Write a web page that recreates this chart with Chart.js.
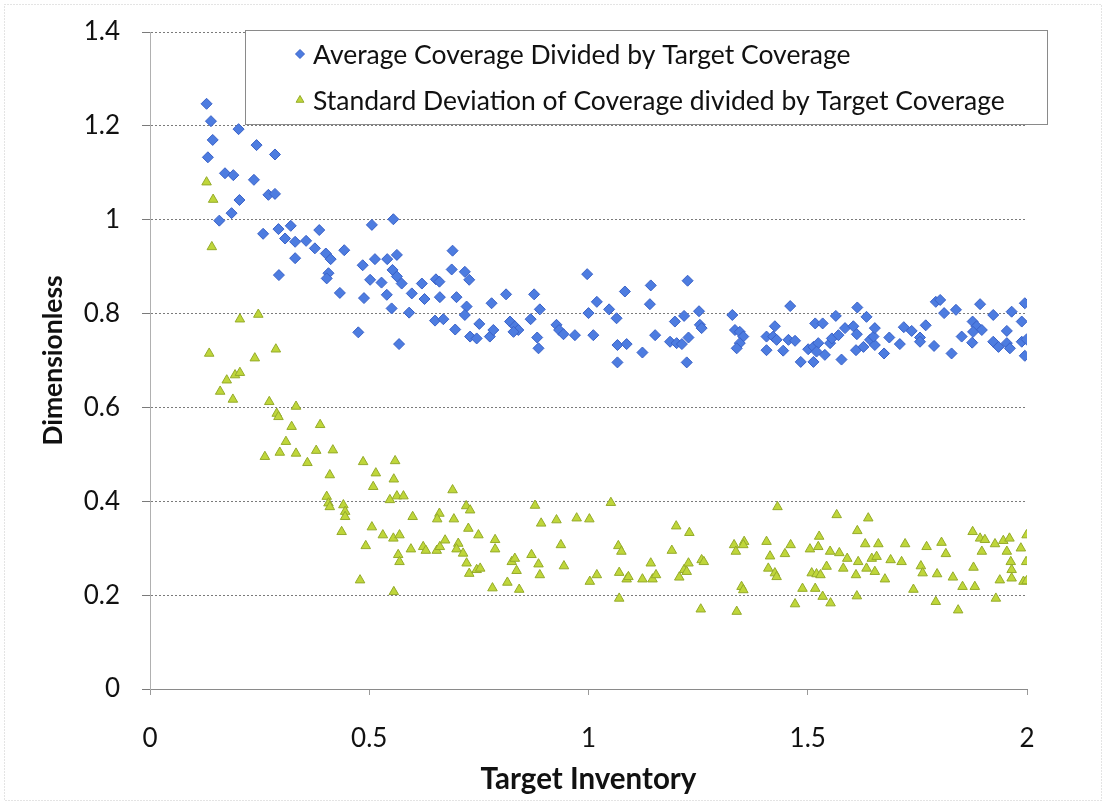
<!DOCTYPE html>
<html>
<head>
<meta charset="utf-8">
<script src="https://cdn.jsdelivr.net/npm/chart.js@4/dist/chart.umd.min.js"></script>
<style>
  html, body { margin: 0; padding: 0; background: #fff; }
  #wrap { width: 1106px; height: 805px; }
</style>
</head>
<body>
<div id="wrap"><canvas id="chart" width="1106" height="805"></canvas></div>
<script>
// Average coverage / target coverage
const avgX = [0.129,0.139,0.143,0.132,0.171,0.190,0.202,0.243,0.285,0.237,0.270,0.285,0.204,0.186,0.158,0.258,0.293,0.321,0.308,0.331,
  0.356,0.376,0.386,0.401,0.412,0.443,0.331,0.407,0.403,0.294,0.433,0.485,0.513,0.506,0.555,0.541,0.563,0.553,0.563,0.574,
  0.502,0.528,0.540,0.597,0.620,0.652,0.660,0.690,0.688,0.718,0.728,0.488,0.551,0.591,0.626,0.661,0.650,0.669,0.699,0.696,
  0.722,0.718,0.751,0.730,0.745,0.775,0.783,0.779,0.475,0.568,0.812,0.821,0.832,0.840,0.829,0.876,0.889,0.868,0.883,0.886,
  0.927,0.933,0.943,0.969,0.997,1.000,1.019,1.011,1.047,1.064,1.066,1.087,1.066,1.083,1.123,1.142,1.140,1.152,1.197,1.186,
  1.201,1.213,1.228,1.218,1.226,1.252,1.254,1.258,1.224,1.328,1.334,1.345,1.353,1.345,1.338,1.406,1.425,1.421,1.429,1.406,
  1.444,1.460,1.456,1.471,1.484,1.501,1.513,1.524,1.513,1.520,1.539,1.517,1.534,1.551,1.555,1.570,1.564,1.577,1.585,1.604,
  1.612,1.613,1.634,1.610,1.627,1.642,1.653,1.650,1.653,1.674,1.686,1.710,1.719,1.737,1.756,1.756,1.769,1.788,1.792,1.802,
  1.811,1.838,1.828,1.851,1.875,1.876,1.885,1.897,1.877,1.893,1.923,1.923,1.935,1.954,1.961,1.954,1.965,1.988,1.999,1.988,
  1.995,1.995];
const avgY = [1.247,1.210,1.170,1.133,1.099,1.095,1.193,1.159,1.139,1.085,1.053,1.055,1.042,1.014,0.998,0.970,0.980,0.987,0.960,0.953,
  0.955,0.939,0.978,0.928,0.916,0.935,0.918,0.886,0.875,0.882,0.844,0.903,0.916,0.989,1.001,0.916,0.925,0.893,0.879,0.864,
  0.872,0.866,0.840,0.843,0.864,0.873,0.868,0.934,0.894,0.889,0.872,0.833,0.811,0.802,0.831,0.835,0.785,0.788,0.835,0.766,
  0.815,0.797,0.778,0.751,0.747,0.751,0.765,0.822,0.760,0.735,0.841,0.783,0.773,0.765,0.761,0.841,0.809,0.788,0.749,0.726,
  0.776,0.765,0.756,0.754,0.884,0.801,0.825,0.754,0.809,0.790,0.733,0.735,0.696,0.847,0.717,0.860,0.820,0.754,0.783,0.740,
  0.737,0.735,0.749,0.795,0.870,0.805,0.776,0.769,0.696,0.797,0.765,0.761,0.751,0.737,0.726,0.751,0.773,0.751,0.744,0.722,
  0.721,0.816,0.744,0.742,0.697,0.724,0.729,0.737,0.697,0.719,0.712,0.779,0.779,0.737,0.747,0.754,0.795,0.702,0.769,0.773,
  0.756,0.813,0.793,0.722,0.729,0.744,0.733,0.751,0.769,0.715,0.749,0.735,0.771,0.763,0.749,0.740,0.775,0.731,0.825,0.829,
  0.801,0.808,0.715,0.751,0.738,0.783,0.773,0.765,0.761,0.820,0.797,0.740,0.729,0.737,0.726,0.763,0.804,0.740,0.745,0.783,
  0.822,0.710];

// Standard deviation of coverage / target coverage
const sdX = [0.129,0.144,0.141,0.135,0.205,0.247,0.287,0.239,0.160,0.175,0.194,0.205,0.189,0.272,0.289,0.293,0.333,0.323,0.388,0.310,
  0.262,0.296,0.333,0.359,0.379,0.417,0.410,0.403,0.407,0.410,0.441,0.445,0.445,0.437,0.486,0.515,0.509,0.559,0.556,0.547,
  0.563,0.578,0.599,0.506,0.531,0.555,0.569,0.566,0.569,0.492,0.479,0.556,0.595,0.623,0.629,0.654,0.661,0.673,0.660,0.655,
  0.693,0.690,0.721,0.730,0.726,0.749,0.703,0.699,0.714,0.722,0.728,0.745,0.753,0.781,0.787,0.787,0.815,0.825,0.832,0.836,
  0.842,0.878,0.892,0.870,0.886,0.889,0.927,0.937,0.944,0.973,1.002,1.051,1.068,1.075,1.003,1.019,1.070,1.087,1.091,1.070,
  1.123,1.142,1.146,1.154,1.190,1.200,1.230,1.207,1.218,1.228,1.224,1.258,1.263,1.256,1.332,1.336,1.355,1.353,1.349,1.353,
  1.338,1.406,1.414,1.410,1.425,1.429,1.431,1.448,1.461,1.471,1.488,1.505,1.526,1.524,1.509,1.520,1.529,1.517,1.534,1.552,
  1.543,1.551,1.572,1.590,1.566,1.581,1.610,1.615,1.613,1.638,1.631,1.661,1.612,1.634,1.646,1.657,1.653,1.676,1.689,1.714,
  1.722,1.741,1.758,1.762,1.771,1.795,1.792,1.805,1.815,1.831,1.843,1.853,1.881,1.878,1.876,1.893,1.904,1.897,1.927,1.929,
  1.938,1.946,1.960,1.954,1.963,1.965,1.965,1.986,1.998,1.999,1.992,1.999];
const sdY = [1.080,1.043,0.942,0.715,0.788,0.798,0.724,0.705,0.634,0.658,0.669,0.674,0.617,0.612,0.587,0.580,0.602,0.559,0.563,0.527,
  0.495,0.504,0.502,0.482,0.508,0.509,0.456,0.410,0.396,0.388,0.392,0.378,0.367,0.335,0.484,0.460,0.431,0.486,0.447,0.403,
  0.411,0.411,0.367,0.345,0.328,0.321,0.328,0.286,0.271,0.305,0.232,0.207,0.298,0.303,0.295,0.295,0.303,0.317,0.374,0.362,
  0.362,0.424,0.390,0.381,0.342,0.328,0.310,0.298,0.289,0.268,0.246,0.254,0.257,0.215,0.318,0.298,0.227,0.271,0.278,0.252,
  0.212,0.391,0.353,0.286,0.266,0.243,0.360,0.307,0.262,0.364,0.362,0.397,0.305,0.293,0.229,0.243,0.248,0.234,0.239,0.193,
  0.234,0.268,0.234,0.243,0.295,0.347,0.333,0.238,0.254,0.268,0.250,0.275,0.271,0.170,0.307,0.293,0.314,0.307,0.218,0.211,
  0.165,0.314,0.283,0.257,0.247,0.239,0.388,0.288,0.307,0.181,0.214,0.298,0.325,0.303,0.247,0.245,0.243,0.214,0.197,0.183,
  0.261,0.293,0.290,0.278,0.371,0.257,0.243,0.271,0.337,0.364,0.309,0.309,0.198,0.257,0.278,0.282,0.250,0.234,0.275,0.271,
  0.309,0.212,0.262,0.247,0.303,0.245,0.186,0.312,0.288,0.238,0.168,0.218,0.218,0.259,0.335,0.321,0.318,0.293,0.309,0.193,
  0.232,0.316,0.321,0.293,0.271,0.254,0.236,0.300,0.271,0.328,0.229,0.230];

const seriesNames = ['Average Coverage Divided by Target Coverage', 'Standard Deviation of Coverage divided by Target Coverage'];
const xTicks = [0, 0.5, 1, 1.5, 2];
const yTicks = [0, 0.2, 0.4, 0.6, 0.8, 1, 1.2, 1.4];

const FONT = 'Lato, "Open Sans", sans-serif';
const BLUE = '#4d7ce0', BLUE_EDGE = '#3a62c8';
const GREEN = '#bfd63a', GREEN_EDGE = '#95ab2a';

const toPoints = (xs, ys) => xs.map((x, i) => ({ x: x, y: ys[i] }));

// white page + faint dotted frame like the scanned chart border
const frame = {
    id: 'frame',
    beforeDraw(chart) {
        const ctx = chart.ctx;
        ctx.save();
        ctx.fillStyle = '#fff';
        ctx.fillRect(0, 0, chart.width, chart.height);
        ctx.strokeStyle = '#c8c8c8';
        ctx.setLineDash([1, 2]);
        ctx.strokeRect(4.5, 4.5, chart.width - 9, chart.height - 9);
        ctx.restore();
    }
};

// boxed legend sitting inside the plot, over the top gridlines
const boxLegend = {
    id: 'boxLegend',
    afterDatasetsDraw(chart) {
        const ctx = chart.ctx;
        const a = chart.chartArea;
        const left = a.left + 95, top = a.top - 2, w = 802, h = 94;
        ctx.save();
        ctx.fillStyle = '#fff';
        ctx.fillRect(left, top, w, h);
        ctx.strokeStyle = '#8a8a8a';
        ctx.lineWidth = 1;
        ctx.strokeRect(left + 0.5, top + 0.5, w, h);
        ctx.font = '26.5px ' + FONT;
        ctx.textBaseline = 'middle';
        chart.data.datasets.forEach((ds, i) => {
            const y = top + 24 + i * 46;
            ctx.fillStyle = ds.backgroundColor;
            ctx.strokeStyle = ds.borderColor;
            ctx.lineWidth = 1;
            Chart.helpers.drawPoint(ctx, {
                pointStyle: ds.pointStyle, radius: 4.5, borderWidth: 1
            }, left + 55, y);
            ctx.fillStyle = '#111';
            ctx.fillText(ds.label, left + 68, y + 1);
        });
        ctx.restore();
    }
};

const ctx = document.getElementById('chart').getContext('2d');
new Chart(ctx, {
    type: 'scatter',
    data: {
        datasets: [{
            label: seriesNames[0],
            data: toPoints(avgX, avgY),
            pointStyle: 'rectRot',
            pointRadius: 5.5,
            backgroundColor: BLUE,
            borderColor: BLUE_EDGE,
            borderWidth: 1
        }, {
            label: seriesNames[1],
            data: toPoints(sdX, sdY),
            pointStyle: 'triangle',
            pointRadius: 5.5,
            backgroundColor: GREEN,
            borderColor: GREEN_EDGE,
            borderWidth: 1
        }]
    },
    options: {
        responsive: false,
        animation: false,
        layout: { padding: { left: 0, right: 79, top: 32, bottom: 0 } },
        plugins: {
            legend: { display: false },
            tooltip: { enabled: false }
        },
        scales: {
            x: {
                type: 'linear',
                min: 0, max: 2,
                afterBuildTicks: (s) => { s.ticks = xTicks.map(v => ({ value: v })); },
                afterFit: (s) => { s.height = 116; s.paddingLeft = 0; s.paddingRight = 0; },
                ticks: {
                    color: '#111',
                    padding: 28,
                    font: { family: FONT, size: 26 },
                    callback: (v) => String(v)
                },
                grid: { drawOnChartArea: false, drawTicks: true, tickLength: 6, color: '#9a9a9a' },
                border: { color: '#8a8a8a' },
                title: {
                    display: true,
                    text: 'Target Inventory',
                    color: '#111',
                    font: { family: FONT, size: 29.5, weight: 'bold' },
                    padding: { top: 0, bottom: 8 }
                }
            },
            y: {
                type: 'linear',
                min: 0, max: 1.4,
                afterBuildTicks: (s) => { s.ticks = yTicks.map(v => ({ value: v })); },
                afterFit: (s) => { s.width = 150; s.paddingTop = 0; s.paddingBottom = 0; },
                ticks: {
                    color: '#111',
                    padding: 22,
                    font: { family: FONT, size: 26 },
                    callback: (v) => String(v)
                },
                grid: { color: '#7a7a7a', tickLength: 8, lineWidth: 1 },
                border: { color: '#b0b0b0', dash: [2, 2] },
                title: {
                    display: true,
                    text: 'Dimensionless',
                    color: '#111',
                    font: { family: FONT, size: 26.5, weight: 'bold' },
                    padding: { top: 38, bottom: 0 }
                }
            }
        }
    },
    plugins: [frame, boxLegend]
});
</script>
</body>
</html>
